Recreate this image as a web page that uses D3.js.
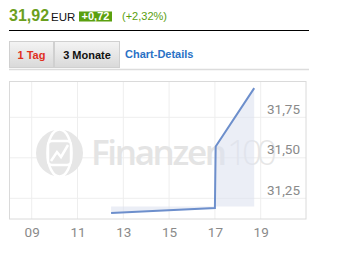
<!DOCTYPE html>
<html><head><meta charset="utf-8">
<script src="https://cdn.jsdelivr.net/npm/d3@7/dist/d3.min.js"></script>
<style>
html,body{margin:0;padding:0;background:#fff;}
svg{display:block;}
</style></head>
<body>
<svg id="c" width="341" height="267"></svg>
<script>
// ---- data ----
const lastPrice = "31,92";
const currency = "EUR";
const changeAbs = "+0,72";
const changePct = "(+2,32%)";
const prevClose = 31.20;
const tabs = ["1 Tag", "3 Monate"];
const linkLabel = "Chart-Details";
const times = ["12:28", "17:00", "17:02", "18:43"];
const values = [31.16, 31.19, 31.57, 31.93];
const xTickHours = [9, 11, 13, 15, 17, 19];
const yTicks = [31.25, 31.50, 31.75];

const svg = d3.select("#c");
const day = "2024-01-15";
const parse = d3.timeParse("%Y-%m-%d %H:%M");
const pts = times.map((t, i) => ({ t: parse(day + " " + t), v: values[i] }));

// ---- header ----
const hdr = svg.append("g").attr("font-family", "Liberation Sans, Arial, sans-serif");
hdr.append("text").attr("x", 9).attr("y", 20.5).attr("font-size", 16).attr("font-weight", "bold")
  .attr("fill", "#6b9f1e").text(lastPrice);
hdr.append("text").attr("x", 51).attr("y", 20.5).attr("font-size", 11.5).attr("fill", "#111").text(currency);
hdr.append("rect").attr("x", 79).attr("y", 11.5).attr("width", 33).attr("height", 10).attr("fill", "#5aa00f");
hdr.append("text").attr("x", 95.5).attr("y", 20.3).attr("text-anchor", "middle").attr("font-size", 11)
  .attr("font-weight", "bold").attr("fill", "#fff").text(changeAbs);
hdr.append("text").attr("x", 122).attr("y", 20.3).attr("font-size", 11).attr("fill", "#5aa00f").text(changePct);
hdr.append("line").attr("x1", 9).attr("x2", 309).attr("y1", 30.5).attr("y2", 30.5).attr("stroke", "#000").attr("stroke-width", 1);

// ---- tabs ----
const defs = svg.append("defs");
const gr = defs.append("linearGradient").attr("id", "tabg").attr("x1", 0).attr("x2", 0).attr("y1", 0).attr("y2", 1);
gr.append("stop").attr("offset", "0%").attr("stop-color", "#f4f4f4");
gr.append("stop").attr("offset", "100%").attr("stop-color", "#d9d9d9");
const tabX = [9, 54], tabW = [44, 65];
tabs.forEach((t, i) => {
  svg.append("rect").attr("x", tabX[i] + 0.5).attr("y", 41.5).attr("width", tabW[i]).attr("height", 26)
    .attr("fill", "url(#tabg)").attr("stroke", "#d0d0d0");
  svg.append("text").attr("x", tabX[i] + tabW[i] / 2 + 0.5).attr("y", 59).attr("text-anchor", "middle")
    .attr("font-family", "Liberation Sans, Arial, sans-serif").attr("font-size", 11).attr("font-weight", "bold")
    .attr("fill", i === 0 ? "#e0301e" : "#111").text(t);
});
svg.append("text").attr("x", 125).attr("y", 57.5).attr("font-family", "Liberation Sans, Arial, sans-serif")
  .attr("font-size", 11).attr("font-weight", "bold").attr("fill", "#2a72c6").text(linkLabel);
svg.append("line").attr("x1", 9).attr("x2", 309).attr("y1", 69.5).attr("y2", 69.5).attr("stroke", "#dcdcdc").attr("stroke-width", 1.5);

// ---- chart ----
const box = { l: 9.5, r: 306, t: 81.5, b: 219 };
const x = d3.scaleTime()
  .domain([parse(day + " 09:00"), parse(day + " 19:00")])
  .range([31.7, 260.7]);
const y = d3.scaleLinear().domain([31.25, 31.75]).range([198.3, 117.3]);
const hourDate = h => parse(day + " " + d3.format("02")(h) + ":00");

const g = svg.append("g");
// gridlines
g.selectAll(".vg").data(xTickHours).join("line")
  .attr("x1", d => x(hourDate(d))).attr("x2", d => x(hourDate(d)))
  .attr("y1", box.t).attr("y2", box.b).attr("stroke", "#eeeeee");
g.selectAll(".hg").data(yTicks).join("line")
  .attr("x1", box.l).attr("x2", box.r).attr("y1", d => y(d)).attr("y2", d => y(d)).attr("stroke", "#eeeeee");

// watermark
const wm = g.append("g");
wm.append("circle").attr("cx", 59.5).attr("cy", 153).attr("r", 23.5).attr("fill", "#e6e6e6");
wm.append("ellipse").attr("cx", 59.5).attr("cy", 153).attr("rx", 12).attr("ry", 23.5).attr("fill", "none").attr("stroke", "#fff").attr("stroke-width", 2.5);
wm.append("rect").attr("x", 48).attr("y", 141).attr("width", 23).attr("height", 24).attr("rx", 4).attr("fill", "#e6e6e6").attr("stroke", "#fff").attr("stroke-width", 2.5);
wm.append("path").attr("d", "M51,161 L57,152 L61,157 L68,145").attr("fill", "none").attr("stroke", "#fff").attr("stroke-width", 2.5);
wm.append("text").attr("x", 91).attr("y", 165).attr("font-family", "Open Sans, sans-serif").attr("font-size", 35)
  .attr("font-weight", 600).attr("fill", "#e4e4e4").attr("textLength", 136).text("Finanzen");
wm.append("text").attr("x", 227).attr("y", 165).attr("font-family", "Open Sans, sans-serif").attr("font-size", 35)
  .attr("font-weight", 300).attr("fill", "#e6e6e6").attr("textLength", 50).text("100");

// area between line and previous close
const area = d3.area().x(d => x(d.t)).y0(y(prevClose)).y1(d => y(d.v));
g.append("path").datum(pts).attr("d", area).attr("fill", "#dde3f0").attr("fill-opacity", 0.6);
const line = d3.line().x(d => x(d.t)).y(d => y(d.v));
g.append("path").datum(pts).attr("d", line).attr("fill", "none").attr("stroke", "#6d8fcc").attr("stroke-width", 2);

// border
g.append("rect").attr("x", box.l).attr("y", box.t).attr("width", box.r - box.l).attr("height", box.b - box.t)
  .attr("fill", "none").attr("stroke", "#dadada");

// y labels
g.selectAll(".yl").data(yTicks).join("text")
  .attr("x", 300).attr("y", d => y(d) - 3.5).attr("text-anchor", "end")
  .attr("font-family", "Roboto, sans-serif").attr("font-size", 13.5).attr("fill", "#8a8a8a")
  .text(d => d3.format(".2f")(d).replace(".", ","));

// x labels
const xAxis = d3.axisBottom(x).tickValues(xTickHours.map(hourDate))
  .tickFormat(d3.timeFormat("%H")).tickSize(0).tickPadding(0);
const ax = svg.append("g").attr("transform", `translate(0,${box.b})`).call(xAxis);
ax.select(".domain").remove();
ax.selectAll("text").attr("dy", null).attr("y", 17.5).attr("font-family", "Roboto, sans-serif")
  .attr("font-size", 13.5).attr("fill", "#8a8a8a");
</script>
</body></html>
